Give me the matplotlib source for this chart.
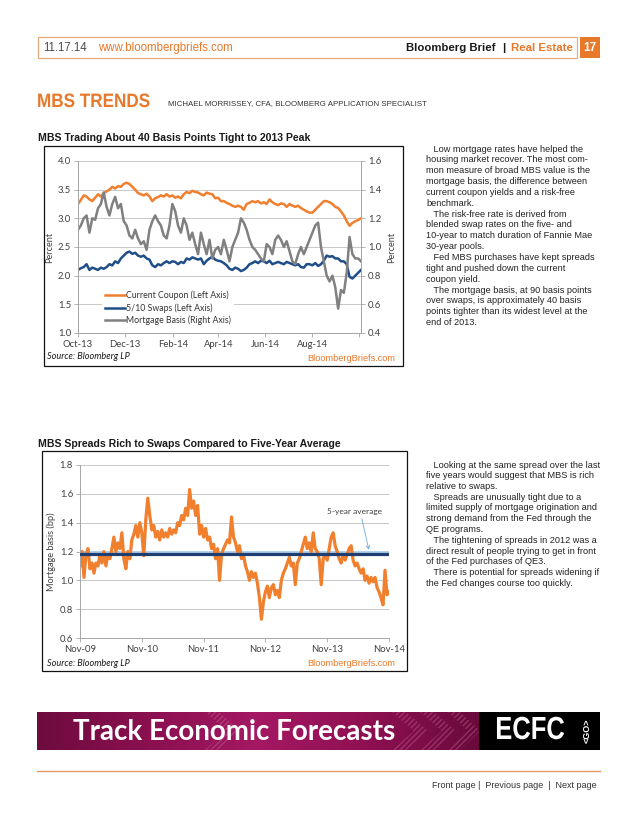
import matplotlib
matplotlib.use('Agg')
import matplotlib.pyplot as plt
from matplotlib.patches import Rectangle, Polygon
from matplotlib.lines import Line2D
from matplotlib.colors import LinearSegmentedColormap
from matplotlib import font_manager as fm
from matplotlib import patheffects as pe
from matplotlib.transforms import Affine2D
import numpy as np
import pandas as pd

# ---------------- Chart 1 data: Oct-13 .. Oct-14 ----------------
c1_start, c1_end = '2013-10-01', '2014-10-03'
coupon = [3.25, 3.32, 3.40, 3.38, 3.33, 3.30, 3.36, 3.42, 3.38, 3.44,
          3.47, 3.50, 3.55, 3.52, 3.56, 3.55, 3.60, 3.62, 3.60, 3.55,
          3.50, 3.44, 3.42, 3.40, 3.43, 3.38, 3.30, 3.35, 3.37, 3.40,
          3.38, 3.42, 3.38, 3.40, 3.36, 3.38, 3.35, 3.42, 3.46, 3.44,
          3.48, 3.46, 3.45, 3.42, 3.40, 3.45, 3.43, 3.42, 3.35, 3.36,
          3.30, 3.30, 3.27, 3.25, 3.22, 3.20, 3.22, 3.20, 3.15, 3.25,
          3.27, 3.30, 3.28, 3.30, 3.26, 3.28, 3.25, 3.33, 3.28, 3.25,
          3.23, 3.26, 3.25, 3.20, 3.25, 3.22, 3.20, 3.22, 3.18, 3.15,
          3.12, 3.10, 3.10, 3.15, 3.20, 3.25, 3.30, 3.30, 3.28, 3.25,
          3.20, 3.18, 3.12, 3.05, 2.95, 2.87, 2.92, 2.95, 2.97, 3.00]
swaps = [2.10, 2.13, 2.15, 2.20, 2.10, 2.14, 2.12, 2.10, 2.14, 2.12,
         2.15, 2.20, 2.18, 2.25, 2.22, 2.30, 2.35, 2.40, 2.42, 2.38,
         2.40, 2.35, 2.33, 2.35, 2.30, 2.28, 2.18, 2.15, 2.20, 2.18,
         2.22, 2.25, 2.22, 2.25, 2.24, 2.20, 2.24, 2.22, 2.30, 2.28,
         2.32, 2.30, 2.28, 2.30, 2.20, 2.26, 2.30, 2.33, 2.28, 2.26,
         2.25, 2.22, 2.18, 2.12, 2.10, 2.14, 2.12, 2.08, 2.10, 2.14,
         2.20, 2.22, 2.25, 2.22, 2.26, 2.25, 2.22, 2.26, 2.20, 2.22,
         2.24, 2.22, 2.20, 2.24, 2.22, 2.20, 2.18, 2.20, 2.15, 2.14,
         2.20, 2.20, 2.18, 2.22, 2.17, 2.20, 2.26, 2.35, 2.33, 2.34,
         2.30, 2.30, 2.25, 2.25, 2.20, 1.98, 1.95, 2.00, 2.05, 2.10]
basis = [1.12, 1.15, 1.20, 1.22, 1.10, 1.20, 1.19, 1.27, 1.30, 1.38,
         1.28, 1.22, 1.30, 1.35, 1.27, 1.30, 1.18, 1.15, 1.08, 1.06,
         1.12, 1.06, 1.02, 1.04, 0.98, 1.12, 1.18, 1.22, 1.18, 1.15,
         1.08, 1.06, 1.15, 1.30, 1.25, 1.15, 1.10, 1.20, 1.15, 1.05,
         1.10, 1.02, 0.95, 1.10, 1.02, 0.95, 1.05, 0.92, 0.98, 1.00,
         0.95, 1.05, 0.98, 0.90, 1.00, 1.05, 1.10, 1.20, 1.17, 1.12,
         1.05, 1.00, 0.98, 0.95, 0.92, 0.90, 1.02, 1.00, 0.95, 1.05,
         1.08, 1.05, 1.00, 1.04, 0.97, 0.90, 0.88, 0.95, 1.00, 0.95,
         1.00, 1.05, 1.10, 1.15, 1.17, 1.00, 0.90, 0.80, 0.76, 0.80,
         0.72, 0.57, 0.70, 0.68, 0.82, 1.07, 0.95, 0.92, 0.92, 0.90]
c1_series = ['Current Coupon (Left Axis)', '5/10 Swaps (Left Axis)', 'Mortgage Basis (Right Axis)']
c1_xticks = ['2013-10-01', '2013-12-01', '2014-02-01', '2014-04-01', '2014-06-01', '2014-08-01', '2014-10-01']
c1_xlabels = ['Oct-13', 'Dec-13', 'Feb-14', 'Apr-14', 'Jun-14', 'Aug-14', '']
c1_left_ticks = [1.0, 1.5, 2.0, 2.5, 3.0, 3.5, 4.0]
c1_right_ticks = [0.4, 0.6, 0.8, 1.0, 1.2, 1.4, 1.6]

# ---------------- Chart 2 data: Nov-09 .. Nov-14 ----------------
c2_start, c2_end = '2009-11-01', '2014-11-01'
spread = [1.10, 1.20, 1.02, 1.18, 1.22, 1.08, 1.12, 1.05, 1.12, 1.10,
          1.18, 1.12, 1.20, 1.10, 1.18, 1.15, 1.22, 1.30, 1.20, 1.26,
          1.22, 1.33, 1.15, 1.08, 1.20, 1.15, 1.28, 1.32, 1.38, 1.30,
          1.40, 1.33, 1.17, 1.42, 1.57, 1.45, 1.35, 1.38, 1.30, 1.34,
          1.28, 1.35, 1.30, 1.33, 1.30, 1.36, 1.32, 1.35, 1.33, 1.40,
          1.38, 1.45, 1.42, 1.50, 1.45, 1.63, 1.50, 1.55, 1.45, 1.52,
          1.32, 1.38, 1.30, 1.36, 1.28, 1.30, 1.22, 1.25, 1.15, 1.22,
          1.00, 1.18, 1.22, 1.25, 1.28, 1.26, 1.44, 1.30, 1.26, 1.20,
          1.24, 1.15, 1.18, 1.10, 1.06, 1.00, 1.06, 1.02, 1.05, 0.98,
          0.88, 0.73, 0.85, 0.92, 0.96, 0.88, 0.95, 0.97, 0.90, 0.93,
          0.88, 1.00, 1.05, 1.08, 1.12, 1.16, 1.10, 1.12, 0.97, 1.12,
          1.15, 1.20, 1.25, 1.30, 1.22, 1.26, 1.20, 1.33, 1.22, 1.20,
          1.15, 0.97, 1.15, 1.18, 1.14, 1.22, 1.30, 1.33, 1.24, 1.20,
          1.15, 1.12, 1.18, 1.14, 1.18, 1.22, 1.24, 1.14, 1.10, 1.12,
          1.08, 1.05, 1.08, 1.00, 1.03, 0.98, 1.02, 0.99, 1.02, 0.95,
          0.92, 0.88, 0.83, 1.07, 0.90, 0.92]
five_year_avg = 1.185
c2_xticks = ['2009-11-01', '2010-11-01', '2011-11-01', '2012-11-01', '2013-11-01', '2014-11-01']
c2_xlabels = ['Nov-09', 'Nov-10', 'Nov-11', 'Nov-12', 'Nov-13', 'Nov-14']
c2_yticks = [0.6, 0.8, 1.0, 1.2, 1.4, 1.6, 1.8]

col1_lines = ["   Low mortgage rates have helped the",
              "housing market recover. The most com-",
              "mon measure of broad MBS value is the",
              "mortgage basis, the difference between",
              "current coupon yields and a risk-free",
              "benchmark.",
              "   The risk-free rate is derived from",
              "blended swap rates on the five- and",
              "10-year to match duration of Fannie Mae",
              "30-year pools.",
              "   Fed MBS purchases have kept spreads",
              "tight and pushed down the current",
              "coupon yield.",
              "   The mortgage basis, at 90 basis points",
              "over swaps, is approximately 40 basis",
              "points tighter than its widest level at the",
              "end of 2013."]
col2_lines = ["   Looking at the same spread over the last",
              "five years would suggest that MBS is rich",
              "relative to swaps.",
              "   Spreads are unusually tight due to a",
              "limited supply of mortgage origination and",
              "strong demand from the Fed through the",
              "QE programs.",
              "   The tightening of spreads in 2012 was a",
              "direct result of people trying to get in front",
              "of the Fed purchases of QE3.",
              "   There is potential for spreads widening if",
              "the Fed changes course too quickly."]

# ---------------- styling ----------------
ORANGE = '#E8782A'
LINE_OR = '#F07F2E'
NAVY = '#1F4E89'
NAVY2 = '#1F3F73'
GRAY = '#808080'
GRID = '#BFBFBF'
AXC = '#A6A6A6'
TXT = '#333333'
names = {f.name for f in fm.fontManager.ttflist}
SANS = ['Liberation Sans', 'DejaVu Sans']
CAL = ['Lato', 'DejaVu Sans'] if 'Lato' in names else SANS

W, H = 638, 826
fig = plt.figure(figsize=(W / 100, H / 100), dpi=100)
fig.patch.set_facecolor('white')


class HScale(pe.AbstractPathEffect):
    """Condense glyphs horizontally about the text's anchor x."""
    def __init__(self, sx, txt):
        super().__init__()
        self.sx = sx
        self.txt = txt

    def draw_path(self, renderer, gc, tpath, affine, rgbFace=None):
        x0 = self.txt.get_transform().transform(self.txt.get_position())[0]
        aff = affine + Affine2D().translate(-x0, 0).scale(self.sx, 1).translate(x0, 0)
        renderer.draw_path(gc, tpath, aff, rgbFace)


def condense(t, sx):
    t.set_path_effects([HScale(sx, t)])
    return t


def text(x, y, s, **kw):
    kw.setdefault('family', SANS)
    return fig.text(x / W, 1 - y / H, s, **kw)


def rect(x0, y0, x1, y1, **kw):
    fig.add_artist(Rectangle((x0 / W, 1 - y1 / H), (x1 - x0) / W, (y1 - y0) / H,
                             transform=fig.transFigure, **kw))


def axes(x0, y0, x1, y1, **kw):
    return fig.add_axes([x0 / W, 1 - y1 / H, (x1 - x0) / W, (y1 - y0) / H], **kw)


# ---------------- header ----------------
rect(38, 37, 577, 58, fill=False, edgecolor='#EBA878', lw=0.9)
rect(580, 37, 600, 58, facecolor=ORANGE, edgecolor='none')
text(590, 48, '17', ha='center', va='center', color='white', fontsize=8.5, weight='bold')
text(43, 48, '11.17.14', va='center', color='#4D4D4D', fontsize=8.3)
text(98, 48, 'www.bloombergbriefs.com', va='center', color=ORANGE, fontsize=8.3)
text(496, 48, 'Bloomberg Brief', ha='right', va='center', color='#1A1A1A', fontsize=8.2, weight='bold')
text(503.5, 48, '|', ha='center', va='center', color='#1A1A1A', fontsize=8.2, weight='bold')
text(573, 48, 'Real Estate', ha='right', va='center', color=ORANGE, fontsize=8.2, weight='bold')

condense(text(37, 107, 'MBS TRENDS', va='baseline', weight='bold', fontsize=14, color=ORANGE), 0.88)
text(168, 105, 'MICHAEL MORRISSEY, CFA, BLOOMBERG APPLICATION SPECIALIST', va='baseline',
     fontsize=5.7, color=TXT)

# ---------------- chart 1 ----------------
text(38, 141, 'MBS Trading About 40 Basis Points Tight to 2013 Peak', va='baseline',
     weight='bold', fontsize=7.6, color='#1A1A1A')
rect(44, 146, 403, 366, fill=False, edgecolor='#111111', lw=0.9)

ax = axes(78, 161, 361, 333)
d1 = pd.date_range(c1_start, c1_end, periods=len(coupon))
l1, = ax.plot(d1, coupon, color=LINE_OR, lw=1.8, label=c1_series[0])
l2, = ax.plot(d1, swaps, color=NAVY, lw=1.8, label=c1_series[1])
ax2 = ax.twinx()
ax2.patch.set_visible(False)
l3, = ax2.plot(d1, basis, color=GRAY, lw=1.8, label=c1_series[2])
ax.set_ylim(c1_left_ticks[0], c1_left_ticks[-1])
ax2.set_ylim(c1_right_ticks[0], c1_right_ticks[-1])
ax.set_xlim(d1[0], d1[-1])
ax.set_yticks(c1_left_ticks)
ax.set_yticklabels(['%.1f' % v for v in c1_left_ticks])
ax2.set_yticks(c1_right_ticks)
ax2.set_yticklabels(['%.1f' % v for v in c1_right_ticks])
ax.set_xticks(pd.to_datetime(c1_xticks))
ax.set_xticklabels(c1_xlabels)
ax.grid(axis='y', color=GRID, lw=0.6)
ax.set_axisbelow(True)
for a in (ax, ax2):
    for s in a.spines.values():
        s.set_color(AXC)
        s.set_linewidth(0.7)
    a.spines['top'].set_visible(False)
    a.tick_params(length=3, width=0.6, color=AXC, labelsize=6.8, labelcolor='#404040', pad=2)
    for lab in a.get_xticklabels() + a.get_yticklabels():
        lab.set_family(CAL)
ax.set_ylabel('Percent', fontsize=6.6, family=CAL, color='#404040', labelpad=3)
ax2.set_ylabel('Percent', fontsize=6.6, family=CAL, color='#404040', labelpad=4, rotation=90)
leg = ax2.legend([l1, l2, l3], c1_series, loc='lower left', bbox_to_anchor=(0.085, 0.03),
                 frameon=True, facecolor='white', edgecolor='none', framealpha=1, fancybox=False,
                 prop={'family': CAL, 'size': 6.3}, handlelength=2.3, handletextpad=0.1,
                 labelspacing=0.3, borderpad=0.35, borderaxespad=0)
for t in leg.get_texts():
    t.set_color('#333333')
text(47, 357, 'Source: Bloomberg LP', va='center', style='italic', family=CAL, fontsize=6.6, color='#1A1A1A')
text(395, 358, 'BloombergBriefs.com', ha='right', va='center', fontsize=6.6, color=ORANGE)

# ---------------- chart 2 ----------------
text(38, 447, 'MBS Spreads Rich to Swaps Compared to Five-Year Average', va='baseline',
     weight='bold', fontsize=7.6, color='#1A1A1A')
rect(42, 451, 407, 671, fill=False, edgecolor='#111111', lw=0.9)

bx = axes(80, 465, 389, 638)
d2 = pd.date_range(c2_start, c2_end, periods=len(spread))
bx.grid(axis='y', color=GRID, lw=0.6)
bx.set_axisbelow(True)
bx.axhline(1.2, color='#A8CDEC', lw=1.3, zorder=1.5)
bx.plot(d2, spread, color=LINE_OR, lw=2.3, zorder=2)
bx.axhline(five_year_avg, color=NAVY2, lw=2.3, zorder=3)
bx.set_xlim(d2[0], d2[-1])
bx.set_ylim(c2_yticks[0], c2_yticks[-1])
bx.set_yticks(c2_yticks)
bx.set_yticklabels(['%.1f' % v for v in c2_yticks])
bx.set_xticks(pd.to_datetime(c2_xticks))
bx.set_xticklabels(c2_xlabels)
for s in ('top', 'right'):
    bx.spines[s].set_visible(False)
for s in ('left', 'bottom'):
    bx.spines[s].set_color(AXC)
    bx.spines[s].set_linewidth(0.7)
bx.tick_params(length=3, width=0.6, color=AXC, labelsize=6.8, labelcolor='#404040', pad=2)
for lab in bx.get_xticklabels() + bx.get_yticklabels():
    lab.set_family(CAL)
bx.set_ylabel('Mortgage basis (bp)', fontsize=6.6, family=CAL, color='#404040', labelpad=3)
bx.annotate('5-year average', xy=(pd.Timestamp('2014-07-05'), 1.212),
            xytext=(pd.Timestamp('2014-04-10'), 1.48), ha='center', va='center',
            fontsize=6.0, family=CAL, color='#404040',
            arrowprops=dict(arrowstyle='->', color='#6FA8DC', lw=0.6, relpos=(0.62, 0.0),
                            shrinkA=1, shrinkB=0))
text(47, 663, 'Source: Bloomberg LP', va='center', style='italic', family=CAL, fontsize=6.6, color='#1A1A1A')
text(395, 664, 'BloombergBriefs.com', ha='right', va='center', fontsize=6.6, color=ORANGE)

# ---------------- text columns ----------------
for i, s in enumerate(col1_lines):
    text(426, 149 + i * 10.85, s, va='center', fontsize=6.6, color='#222222')
for i, s in enumerate(col2_lines):
    text(426, 465 + i * 10.75, s, va='center', fontsize=6.6, color='#222222')

# ---------------- banner ----------------
bn = axes(37, 712, 600, 750)
bn.set_xlim(37, 600)
bn.set_ylim(0, 1)
bn.axis('off')
cmap = LinearSegmentedColormap.from_list('mag', ['#6E0B3E', '#8A1050', '#A51863', '#8E1052', '#6A0A3B'])
bn.imshow(np.linspace(0, 1, 256)[None, :], aspect='auto', cmap=cmap, extent=[37, 479, 0, 1], zorder=0)
for x0, w, d in [(205, 14, 22), (392, 14, 22), (420, 14, 22), (448, 12, 20)]:
    pts = [(x0, 1), (x0 + w, 1), (x0 + w + d, 0.5), (x0 + w, 0), (x0, 0), (x0 + d, 0.5)]
    bn.add_patch(Polygon(pts, closed=True, facecolor='none', edgecolor='#D27AA5',
                         hatch='//////', lw=0, alpha=0.35, zorder=1))
bn.add_patch(Rectangle((479, 0), 121, 1, facecolor='black', edgecolor='none', zorder=2))
bn.text(73, 0.47, 'Track Economic Forecasts', va='center', ha='left', color='white',
        fontsize=20, weight='bold', family=CAL, zorder=3)
condense(bn.text(530, 0.5, 'ECFC', va='center', ha='center', color='white', fontsize=23,
                 weight='bold', family=SANS, zorder=3), 0.8)
bn.text(587, 0.5, '<GO>', va='center', ha='center', color='white', fontsize=6.5,
        weight='bold', family=SANS, rotation=90, zorder=3)

# ---------------- footer ----------------
fig.add_artist(Line2D([37 / W, 600 / W], [1 - 771 / H, 1 - 771 / H], color='#E39A66', lw=1.0,
                      transform=fig.transFigure))
text(597, 786, 'Front page |  Previous page  |  Next page', ha='right', va='center',
     fontsize=6.5, color='#333333')

fig.savefig('out.png', dpi=100, facecolor='white')
